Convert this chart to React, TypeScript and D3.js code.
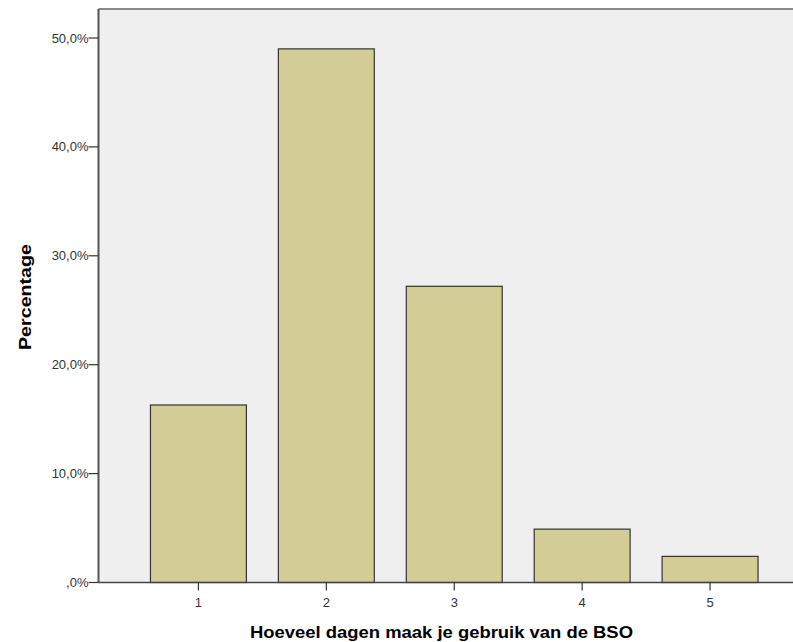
import React from "react";
import * as d3 from "d3";

const categories = ["1", "2", "3", "4", "5"];
const percentages = [16.3, 49.0, 27.2, 4.9, 2.4];
const yTicks = [0, 10, 20, 30, 40, 50];
const xTitle = "Hoeveel dagen maak je gebruik van de BSO";
const yTitle = "Percentage";

const W = 793;
const H = 642;
const left = 98.5;
const right = 810;
const top = 9;
const bottom = 582.5;

export default function App() {
  const x = d3
    .scaleBand<string>()
    .domain(categories)
    .range([left, right])
    .paddingInner(0.25)
    .paddingOuter(0.40625);
  const y = d3.scaleLinear().domain([0, 50]).range([bottom, bottom - 544.5]);
  const fmt = (d: number) => (d === 0 ? ",0%" : d.toFixed(1).replace(".", ",") + "%");
  const font = "Arial, 'Liberation Sans', sans-serif";

  return (
    <svg
      width={W}
      height={H}
      style={{ position: "absolute", left: 0, top: 0, background: "#fff" }}
      fontFamily={font}
    >
      <rect x={left} y={top} width={right - left} height={bottom - top} fill="#efefef" />
      <line x1={left} x2={right} y1={top} y2={top} stroke="#8a8a8a" strokeWidth={2} />
      {categories.map((c, i) => (
        <rect
          key={c}
          x={x(c)}
          y={y(percentages[i])}
          width={x.bandwidth()}
          height={bottom - y(percentages[i])}
          fill="#d2cd96"
          stroke="#333"
          strokeWidth={1.2}
        />
      ))}
      <line x1={left} x2={left} y1={top} y2={bottom} stroke="#555" strokeWidth={2} />
      <line x1={left} x2={right} y1={bottom} y2={bottom} stroke="#444" strokeWidth={1.5} />
      {yTicks.map((t) => (
        <g key={t}>
          <line x1={left - 10} x2={left} y1={y(t)} y2={y(t)} stroke="#333" strokeWidth={1.2} />
          <text x={left - 10} y={y(t)} dy="0.35em" textAnchor="end" fontSize={13} fill="#333">
            {fmt(t)}
          </text>
        </g>
      ))}
      {categories.map((c) => {
        const cx = (x(c) as number) + x.bandwidth() / 2;
        return (
          <g key={c}>
            <line x1={cx} x2={cx} y1={bottom} y2={bottom + 8} stroke="#333" strokeWidth={1.2} />
            <text x={cx} y={bottom + 24} textAnchor="middle" fontSize={13} fill="#333">
              {c}
            </text>
          </g>
        );
      })}
      <text
        x={441.5}
        y={638}
        textAnchor="middle"
        fontSize={17}
        fontWeight="bold"
        fill="#000"
        textLength={383}
        lengthAdjust="spacingAndGlyphs"
      >
        {xTitle}
      </text>
      <text
        transform={`translate(31, 297) rotate(-90)`}
        textAnchor="middle"
        fontSize={17}
        fontWeight="bold"
        fill="#000"
        textLength={106}
        lengthAdjust="spacingAndGlyphs"
      >
        {yTitle}
      </text>
    </svg>
  );
}
